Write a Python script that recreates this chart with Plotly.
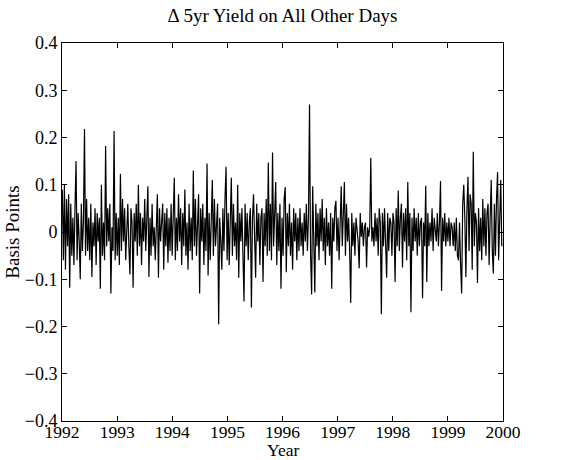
import pandas as pd
import plotly.graph_objects as go

y1992 = [0.09, -0.06, 0.10, -0.08, 0.07, -0.03, 0.08, -0.118, 0.06, -0.05,
         0.03, -0.07, 0.05, 0.15, -0.06, 0.04, -0.02, -0.10, 0.06, -0.04,
         0.02, 0.218, -0.05, 0.07, -0.04, 0.03, -0.06, 0.06, -0.095, 0.02,
         -0.03, 0.05, -0.07, 0.04, -0.02, 0.03, -0.12, 0.10, -0.05, 0.02,
         -0.06, 0.182, -0.03, 0.05, -0.02, 0.06, -0.13, 0.01, -0.04, 0.214,
         -0.06, 0.04]
y1993 = [-0.05, 0.03, -0.07, 0.123, -0.04, 0.07, -0.02, 0.05, -0.06, 0.02,
         0.06, -0.03, -0.09, 0.05, 0.02, -0.118, 0.04, -0.02, 0.06, -0.05,
         0.10, -0.03, 0.04, -0.07, 0.03, -0.02, 0.07, -0.04, 0.02, 0.097,
         -0.095, 0.03, -0.05, 0.06, -0.03, 0.01, -0.06, 0.04, 0.08, -0.097,
         0.05, -0.02, 0.03, 0.06, -0.08, 0.04, -0.03, 0.05, -0.065, 0.03,
         -0.04, 0.06]
y1994 = [-0.05, 0.07, 0.115, -0.06, 0.03, -0.04, 0.08, -0.02, 0.05, -0.07,
         0.04, -0.03, 0.09, -0.05, 0.02, -0.08, 0.06, -0.04, 0.03, -0.06,
         0.13, -0.03, 0.07, -0.05, 0.04, 0.08, -0.13, 0.05, -0.02, 0.06,
         -0.07, 0.03, -0.04, 0.145, -0.092, 0.04, -0.06, 0.02, 0.11, -0.05,
         0.07, -0.03, 0.04, 0.06, -0.195, 0.03, -0.02, -0.08, 0.05, -0.04,
         0.07, 0.138]
y1995 = [-0.06, 0.04, -0.07, 0.03, 0.115, -0.05, 0.06, -0.03, 0.02, -0.06,
         0.10, -0.097, 0.04, -0.02, 0.05, -0.05, -0.147, 0.06, -0.03, 0.04,
         -0.06, 0.02, 0.05, -0.16, 0.03, 0.08, -0.04, -0.097, 0.06, -0.02,
         0.04, -0.07, 0.03, 0.05, -0.106, 0.04, -0.03, 0.07, -0.05, 0.147,
         -0.04, 0.06, -0.06, 0.168, -0.03, 0.05, 0.106, -0.07, 0.04, -0.04,
         0.06, -0.12]
y1996 = [0.03, -0.05, 0.07, 0.095, -0.085, 0.04, -0.03, 0.06, -0.05, 0.02,
         -0.08, 0.05, -0.02, 0.04, -0.06, 0.03, -0.04, 0.05, -0.03, 0.02,
         -0.05, 0.04, -0.02, 0.06, -0.04, 0.03, 0.27, -0.05, -0.132, 0.097,
         -0.04, -0.128, 0.06, -0.03, 0.04, -0.06, 0.05, -0.02, 0.07, -0.04,
         0.03, -0.07, 0.05, -0.03, 0.02, -0.05, 0.04, -0.12, 0.03, -0.02,
         0.05, 0.066]
y1997 = [-0.04, 0.03, -0.06, 0.05, 0.097, -0.03, 0.04, 0.106, -0.05, 0.06,
         -0.02, 0.03, -0.04, -0.15, 0.04, -0.03, 0.02, -0.05, 0.03, 0.01,
         -0.02, -0.077, 0.04, -0.01, 0.02, -0.03, 0.01, 0.02, -0.075, 0.01,
         -0.01, 0.01, 0.157, -0.02, 0.01, -0.03, 0.04, -0.02, 0.03, -0.05,
         0.05, 0.02, -0.174, 0.04, -0.03, 0.05, -0.02, -0.097, 0.04, -0.04,
         0.03, 0.02]
y1998 = [-0.05, 0.04, 0.02, -0.106, 0.05, -0.03, 0.088, -0.04, 0.03, 0.06,
         -0.075, 0.04, -0.02, 0.05, -0.06, 0.106, -0.03, 0.04, -0.17, 0.03,
         -0.04, 0.05, -0.02, 0.03, -0.05, 0.04, -0.03, 0.02, 0.03, -0.14,
         0.02, -0.03, 0.098, -0.106, 0.04, -0.03, 0.02, -0.02, 0.05, -0.04,
         0.03, 0.01, -0.02, 0.04, -0.03, 0.02, 0.108, -0.125, 0.03, -0.02,
         0.04, -0.03]
y1999 = [0.02, -0.02, 0.03, -0.03, 0.02, 0.01, -0.03, 0.02, -0.04, 0.03,
         -0.05, -0.06, 0.02, -0.07, -0.13, 0.06, 0.10, 0.03, -0.095, 0.05,
         0.117, -0.04, 0.08, 0.06, -0.08, 0.17, -0.03, 0.04, 0.02, -0.108,
         0.05, -0.04, 0.03, -0.06, 0.07, -0.03, 0.05, -0.05, 0.04, 0.06,
         -0.07, 0.03, 0.11, -0.04, -0.088, 0.06, -0.05, 0.07, 0.127, -0.06,
         0.05, 0.11, -0.03]

years = ["1992", "1993", "1994", "1995", "1996", "1997", "1998", "1999", "2000"]
y_ticks = [0.4, 0.3, 0.2, 0.1, 0, -0.1, -0.2, -0.3, -0.4]
y_tick_text = ["0.4", "0.3", "0.2", "0.1", "0", "\u22120.1", "\u22120.2", "\u22120.3", "\u22120.4"]

values = y1992 + y1993 + y1994 + y1995 + y1996 + y1997 + y1998 + y1999
dates = pd.date_range("1992-01-03", periods=len(values), freq="7D")

font = "Liberation Serif, Times New Roman, serif"

fig = go.Figure()
fig.add_trace(go.Scatter(x=dates, y=values, mode="lines",
                         line=dict(color="black", width=1.2),
                         hoverinfo="skip", showlegend=False))

axis_common = dict(showline=True, linecolor="black", linewidth=1, mirror="ticks",
                   ticks="inside", ticklen=5, tickcolor="black", showgrid=False,
                   zeroline=False)

fig.update_layout(
    width=563, height=460,
    margin=dict(l=62, r=60, t=43, b=39, autoexpand=False),
    paper_bgcolor="white", plot_bgcolor="white",
    title=dict(text="\u0394 5yr Yield on All Other Days", x=0.5, xanchor="center",
               xref="paper", yref="container", y=0.966, yanchor="middle",
               font=dict(family=font, size=19, color="black")),
    xaxis=dict(range=["1992-01-01", "2000-01-01"],
               tickvals=[f"{y}-01-01" for y in years], ticktext=years,
               automargin=False, ticklabelstandoff=-5,
               tickfont=dict(family=font, size=17.5, color="black"),
               **axis_common),
    yaxis=dict(range=[-0.4, 0.4], tickvals=y_ticks, ticktext=y_tick_text,
               automargin=False,
               tickfont=dict(family=font, size=18, color="black"),
               title=dict(text="Basis Points", font=dict(family=font, size=19, color="black"),
                          standoff=0),
               **axis_common),
    annotations=[dict(text="Year", xref="paper", yref="paper", x=0.5, y=-0.076,
                      xanchor="center", yanchor="middle", showarrow=False,
                      font=dict(family=font, size=17.5, color="black"))],
)

fig.write_html("out.html", config={"displayModeBar": False},
               post_script="document.body.style.margin='0';document.body.style.padding='0';")
